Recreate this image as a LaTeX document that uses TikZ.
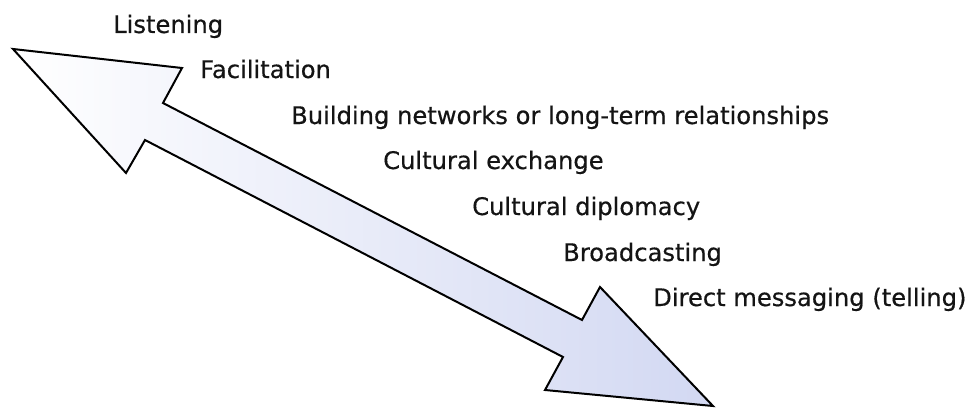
\documentclass[tikz,border=0pt]{standalone}
\usepackage{fontspec}
\setmainfont{DejaVu Sans}
\newfontfamily\lblfont{DejaVu Sans}[FakeBold=0.5]
\definecolor{txt}{RGB}{20,20,20}
\definecolor{arrowend}{RGB}{210,216,242}
\begin{document}
\begin{tikzpicture}[x=1pt,y=-1pt,
  lbl/.style={anchor=base west,inner sep=0pt,text=txt,font=\lblfont\fontsize{24.2}{29}\selectfont},
  blockarrow/.style={draw=black,line width=2pt,line join=miter,left color=white,right color=arrowend}]
\useasboundingbox (0,0) rectangle (965,412);
% double-headed block arrow
\shade[blockarrow]
  (13,49) -- (182,68) -- (163,103) -- (582,320) -- (600,287) -- (713,406)
  -- (545,390) -- (563,357) -- (145,140) -- (126,173) -- cycle;
% labels
\node[lbl] (l1) at (113,33) {Listening};
\node[lbl] (l2) at (200,78) {Facilitation};
\node[lbl] (l3) at (291,124) {Building networks or long-term relationships};
\node[lbl] (l4) at (383,169) {Cultural exchange};
\node[lbl] (l5) at (472,215) {Cultural diplomacy};
\node[lbl] (l6) at (563,261) {Broadcasting};
\node[lbl] (l7) at (653,306) {Direct messaging (telling)};
\end{tikzpicture}
\end{document}
